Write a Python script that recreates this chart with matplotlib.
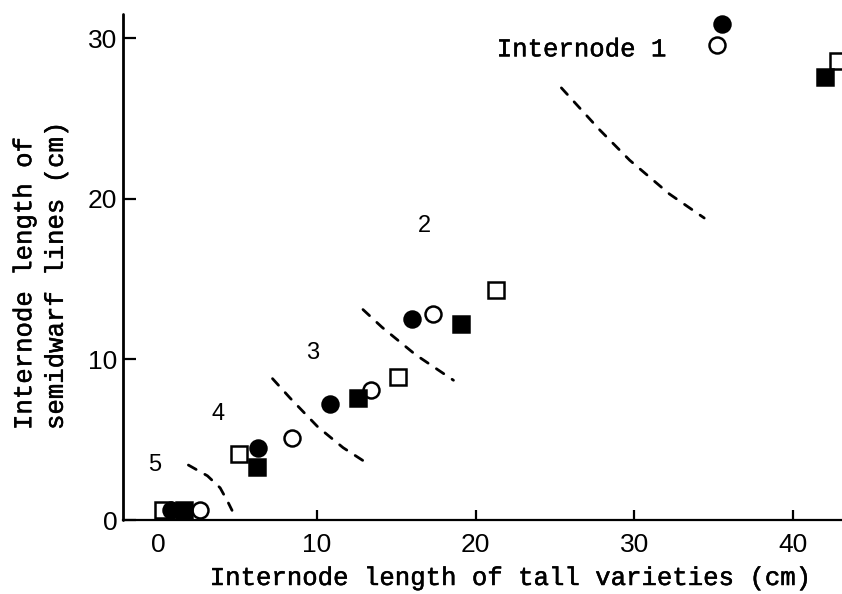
import matplotlib
matplotlib.use("Agg")
import matplotlib.pyplot as plt
import matplotlib.patheffects as pe

# Internode lengths (cm): tall varieties (x) vs. semidwarf lines (y), internodes 5..1
filled_circle_x = [0.8, 6.3, 10.8, 16.0, 35.5]
filled_circle_y = [0.6, 4.5, 7.2, 12.5, 30.9]
open_circle_x = [2.6, 8.4, 13.4, 17.3, 35.2]
open_circle_y = [0.6, 5.1, 8.1, 12.8, 29.6]
filled_square_x = [1.6, 6.2, 12.6, 19.1, 42.0]
filled_square_y = [0.6, 3.3, 7.6, 12.2, 27.6]
open_square_x = [0.3, 5.1, 15.1, 21.3, 42.8]
open_square_y = [0.6, 4.1, 8.9, 14.3, 28.6]

# Dashed boundaries between internode groups
bound_1_2 = ([25.4, 27.8, 29.7, 32.2, 34.4],
             [26.9, 24.3, 22.4, 20.3, 18.8])
bound_2_3 = ([12.9, 14.1, 16.2, 18.6],
             [13.1, 12.0, 10.3, 8.7])
bound_3_4 = ([7.2, 8.3, 10.05, 11.65, 12.9],
             [8.8, 7.6, 5.8, 4.5, 3.7])
bound_4_5 = ([1.9, 3.1, 3.9, 4.4, 4.65],
             [3.42, 2.75, 2.0, 1.1, 0.6])

# Internode group labels
group_labels = ["Internode 1", "2", "3", "4", "5"]
group_label_x = [26.7, 16.8, 9.7, 3.8, -0.25]
group_label_y = [29.3, 18.3, 10.4, 6.6, 3.4]

x_ticks = [0, 10, 20, 30, 40]
y_ticks = [0, 10, 20, 30]

mono = "Liberation Mono"
sans = "Liberation Sans"
heavier = [pe.withStroke(linewidth=0.35, foreground="black")]

fig = plt.figure(figsize=(8.42, 5.94), dpi=100)
ax = fig.add_axes([123 / 842, 74 / 594, 719 / 842, 506 / 594])
ax.set_xlim(-2.22, 43.08)
ax.set_ylim(0, 31.5)

for s in ("top", "right"):
    ax.spines[s].set_visible(False)
ax.spines["left"].set_linewidth(2.0)
ax.spines["bottom"].set_linewidth(1.6)
ax.spines["left"].set_capstyle("round")

ax.set_xticks(x_ticks)
ax.set_yticks(y_ticks)
ax.tick_params(axis="x", direction="in", length=7, width=1.6, pad=9,
               labelsize=19)
ax.tick_params(axis="y", direction="in", length=9, width=1.6, pad=4,
               labelsize=19)
for lab in ax.get_xticklabels() + ax.get_yticklabels():
    lab.set_fontfamily(sans)

ms = 11.5
mew = 1.8
common = dict(linestyle="none", clip_on=False, zorder=3)
ax.plot(open_square_x, open_square_y, marker="s", ms=ms, mfc="white",
        mec="black", mew=mew, **common)
ax.plot(open_circle_x, open_circle_y, marker="o", ms=ms, mfc="white",
        mec="black", mew=mew, **common)
ax.plot(filled_square_x, filled_square_y, marker="s", ms=ms, mfc="black",
        mec="black", mew=mew, **common)
ax.plot(filled_circle_x, filled_circle_y, marker="o", ms=ms, mfc="black",
        mec="black", mew=mew, **common)

for bx, by in (bound_1_2, bound_2_3, bound_3_4, bound_4_5):
    ax.plot(bx, by, color="black", lw=2.0, linestyle=(0, (3.2, 3.6)),
            dash_capstyle="round", dash_joinstyle="round")

for txt, tx, ty in zip(group_labels, group_label_x, group_label_y):
    if len(txt) > 1:
        ax.text(tx, ty, txt, fontsize=18.5, family=mono, ha="center",
                va="center", path_effects=heavier)
    else:
        ax.text(tx, ty, txt, fontsize=17, family=sans, ha="center",
                va="center")

fig.text(512 / 842, 1 - 578 / 594, "Internode length of tall varieties (cm)",
         fontsize=18.5, family=mono, ha="center", va="center",
         path_effects=heavier)
fig.text(40 / 842, 1 - 430 / 594, "Internode length of\nsemidwarf lines (cm)",
         fontsize=18.5, family=mono, ha="center", va="bottom", rotation=90,
         multialignment="left", linespacing=1.4, path_effects=heavier)

fig.savefig("out.png", dpi=100)
